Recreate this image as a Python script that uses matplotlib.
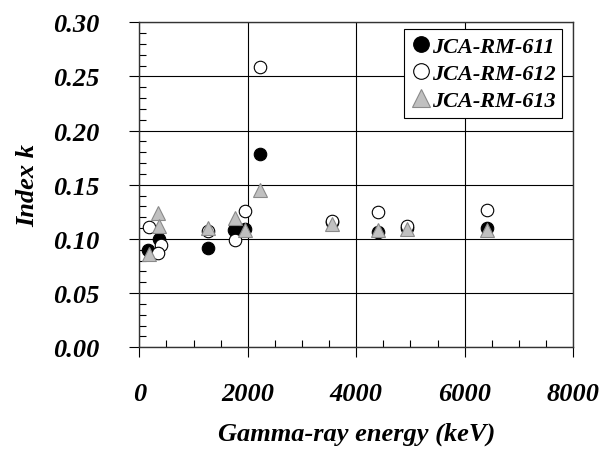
import numpy as np
import matplotlib
matplotlib.use("Agg")
import matplotlib.pyplot as plt
from matplotlib.ticker import MultipleLocator, FormatStrFormatter

plt.rcParams.update({"font.family": "Liberation Serif", "font.weight": "bold",
                     "font.style": "italic", "axes.labelweight": "bold"})

# gamma-ray energy (keV) and index k for the three reference materials
e_611 = [160, 370, 1260, 1750, 1950, 2225, 3545, 4405, 4930, 6405]
k_611 = [0.090, 0.100, 0.092, 0.108, 0.109, 0.178, 0.116, 0.106, 0.110, 0.110]
e_612 = [170, 400, 350, 1260, 1765, 1948, 2225, 3545, 4405, 4930, 6405]
k_612 = [0.111, 0.094, 0.087, 0.107, 0.099, 0.126, 0.259, 0.117, 0.125, 0.112, 0.127]
e_613 = [180, 345, 357, 1260, 1765, 1950, 2230, 3545, 4405, 4930, 6405]
k_613 = [0.086, 0.124, 0.112, 0.110, 0.119, 0.108, 0.145, 0.114, 0.108, 0.109, 0.108]
labels = ["JCA-RM-611", "JCA-RM-612", "JCA-RM-613"]

fig = plt.figure(figsize=(6.11, 4.52), dpi=100)
ax = fig.add_axes([0.228, 0.2294, 0.710, 0.7191])

ms = 9
ax.plot(e_611, k_611, "o", ms=ms, mfc="black", mec="black", mew=0.8, label=labels[0], zorder=3)
ax.plot(e_612, k_612, "o", ms=ms, mfc="white", mec="black", mew=0.8, label=labels[1], zorder=4)
ax.plot(e_613, k_613, "^", ms=ms + 1, mfc="#c0c0c0", mec="#8a8a8a", mew=0.8, label=labels[2], zorder=5)

ax.set_xlim(0, 8000); ax.set_ylim(0, 0.30)
ax.xaxis.set_major_locator(MultipleLocator(2000)); ax.xaxis.set_minor_locator(MultipleLocator(500))
ax.yaxis.set_major_locator(MultipleLocator(0.05)); ax.yaxis.set_minor_locator(MultipleLocator(0.01))
ax.yaxis.set_major_formatter(FormatStrFormatter("%.2f"))
ax.grid(which="major", color="black", linewidth=0.8)
ax.set_axisbelow(True)
ax.tick_params(which="major", direction="out", length=7, width=0.8, labelsize=19)
ax.tick_params(axis="y", which="major", pad=22)
ax.tick_params(axis="x", which="major", pad=18)
ax.tick_params(which="minor", direction="in", length=5, width=0.8)
for s in ax.spines.values():
    s.set_linewidth(1.0); s.set_color("#333")

ax.set_xlabel("Gamma-ray energy (keV)", fontsize=19, fontweight="bold", labelpad=12)
ax.set_ylabel("Index k", fontsize=19, fontweight="bold", labelpad=10)

leg = ax.legend(loc="upper right", bbox_to_anchor=(0.975, 0.978), fontsize=16, frameon=True,
                fancybox=False, edgecolor="black", framealpha=1, handletextpad=0.05,
                borderpad=0.3, labelspacing=0.3, handlelength=0.9, borderaxespad=0,
                markerscale=1.25)
leg.get_frame().set_linewidth(0.8)

fig.savefig("out.png", dpi=100)
